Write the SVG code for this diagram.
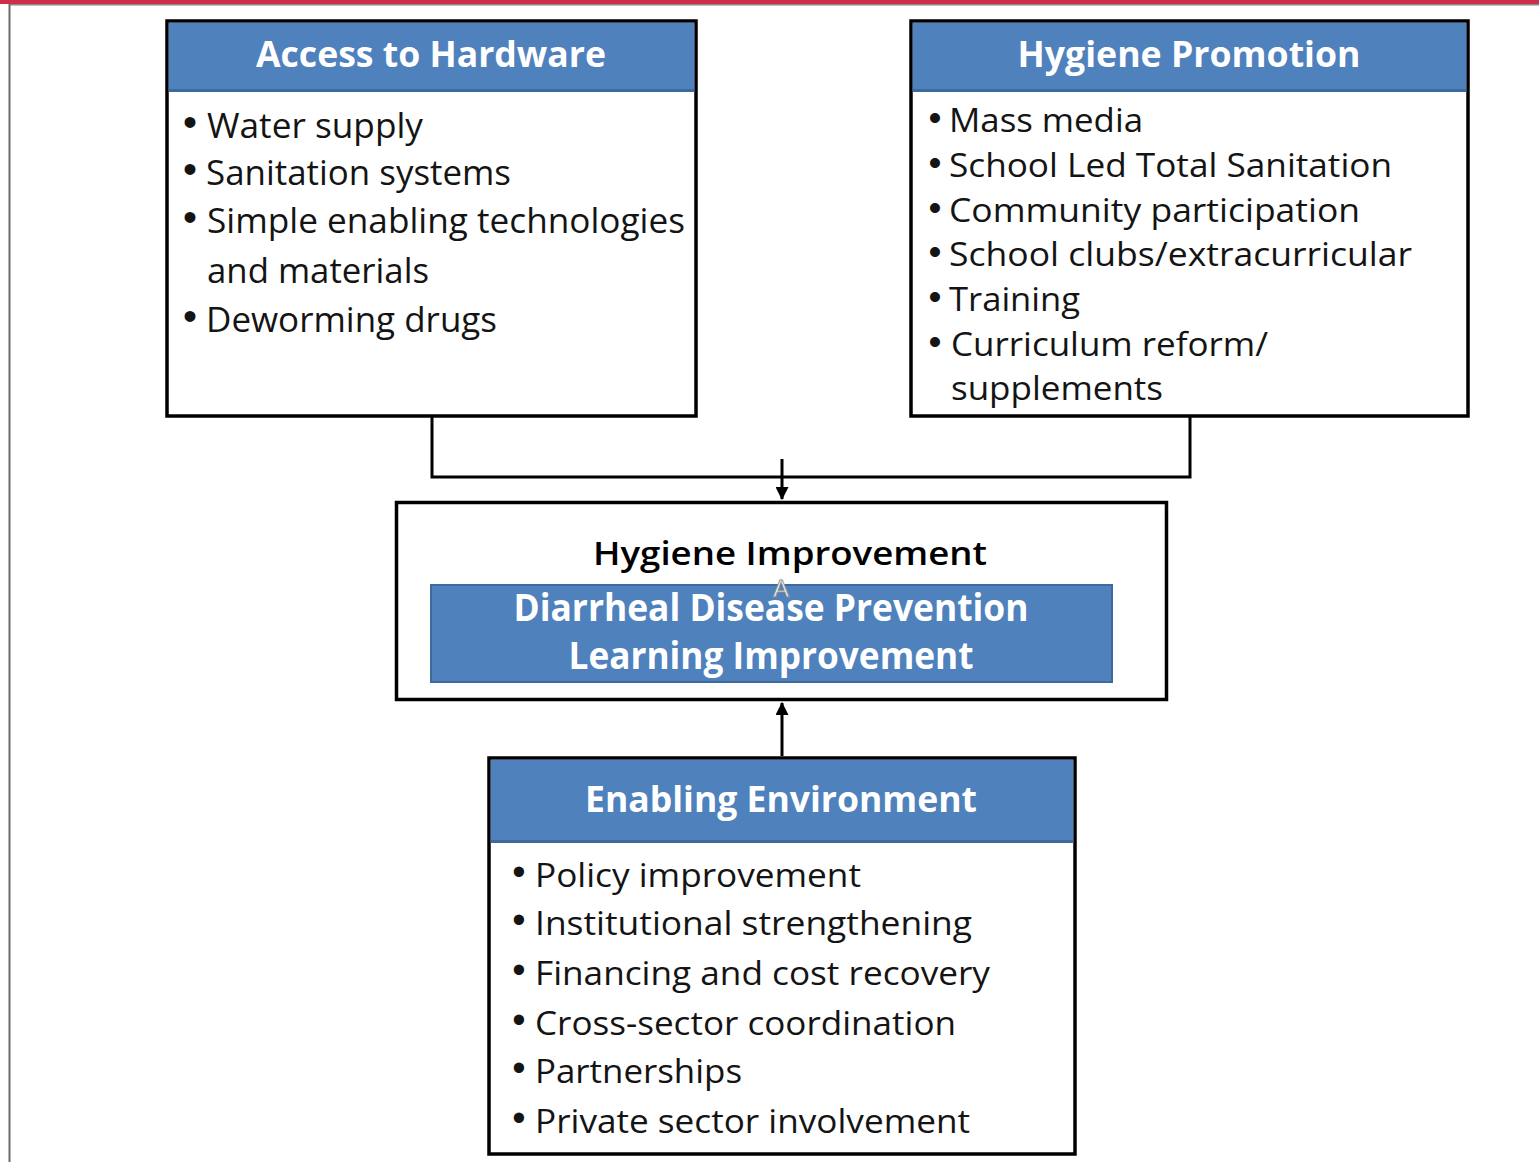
<svg xmlns="http://www.w3.org/2000/svg" width="1539" height="1162" viewBox="0 0 1539 1162">
<style>
.box{fill:#fff;stroke:#000;stroke-width:3.5}
.hdr{fill:#4f81bd}
.hdrline{stroke:#3d6a9e;stroke-width:3}
.ht{font-family:"Open Sans","Liberation Sans",sans-serif;font-weight:bold;fill:#fff;text-anchor:middle}
.it{font-family:"Open Sans","Liberation Sans",sans-serif;fill:#141414}
.bl{font-family:"Liberation Sans",sans-serif;fill:#141414;text-anchor:middle}
.conn{fill:none;stroke:#000;stroke-width:3}
</style>
<defs>
<marker id="ah" viewBox="0 0 12 12" refX="11" refY="6" markerWidth="13" markerHeight="13" markerUnits="userSpaceOnUse" orient="auto">
<path d="M0,0 L12,6 L0,12 z" fill="#000"/>
</marker>
</defs>
<rect x="0" y="0" width="1539" height="1162" fill="#fff"/>
<rect x="0" y="0" width="1539" height="4" fill="#cf2e4a"/>
<line x1="9" y1="4.8" x2="1539" y2="4.8" stroke="#8a8a8a" stroke-width="1.6"/>
<line x1="9.5" y1="4" x2="9.5" y2="1162" stroke="#6a6a6a" stroke-width="2"/>

<g id="connectors">
<path class="conn" d="M432,417 V477 H1190 V417"/>
<line class="conn" x1="782" y1="459" x2="782" y2="499" marker-end="url(#ah)"/>
<line class="conn" x1="782" y1="756" x2="782" y2="703" marker-end="url(#ah)"/>
</g>

<g id="access-to-hardware">
<rect class="box" x="167" y="21" width="529" height="395"/>
<rect class="hdr" x="168.75" y="22.75" width="525.5" height="68"/>
<line class="hdrline" x1="168.75" y1="90.5" x2="694.25" y2="90.5"/>
<text class="ht" x="431" y="67" font-size="36" textLength="350" lengthAdjust="spacingAndGlyphs">Access to Hardware</text>
<text class="bl" x="190" y="136" font-size="40">•</text>
<text class="it" x="207" y="138" font-size="35" textLength="216" lengthAdjust="spacingAndGlyphs">Water supply</text>
<text class="bl" x="190" y="183" font-size="40">•</text>
<text class="it" x="206" y="185" font-size="35" textLength="305" lengthAdjust="spacingAndGlyphs">Sanitation systems</text>
<text class="bl" x="190" y="231" font-size="40">•</text>
<text class="it" x="207" y="233" font-size="35" textLength="478" lengthAdjust="spacingAndGlyphs">Simple enabling technologies</text>
<text class="it" x="207" y="283" font-size="35" textLength="222" lengthAdjust="spacingAndGlyphs">and materials</text>
<text class="bl" x="190" y="330" font-size="40">•</text>
<text class="it" x="206" y="332" font-size="35" textLength="291" lengthAdjust="spacingAndGlyphs">Deworming drugs</text>
</g>

<g id="hygiene-promotion">
<rect class="box" x="911" y="21" width="557" height="395"/>
<rect class="hdr" x="912.75" y="22.75" width="553.5" height="68"/>
<line class="hdrline" x1="912.75" y1="90.5" x2="1466.25" y2="90.5"/>
<text class="ht" x="1189" y="67" font-size="36" textLength="343" lengthAdjust="spacingAndGlyphs">Hygiene Promotion</text>
<text class="bl" x="935" y="130" font-size="37">•</text>
<text class="it" x="949" y="132" font-size="32" textLength="194" lengthAdjust="spacingAndGlyphs">Mass media</text>
<text class="bl" x="935" y="175" font-size="37">•</text>
<text class="it" x="949" y="177" font-size="32" textLength="443" lengthAdjust="spacingAndGlyphs">School Led Total Sanitation</text>
<text class="bl" x="935" y="220" font-size="37">•</text>
<text class="it" x="949" y="222" font-size="32" textLength="411" lengthAdjust="spacingAndGlyphs">Community participation</text>
<text class="bl" x="935" y="264" font-size="37">•</text>
<text class="it" x="949" y="266" font-size="32" textLength="463" lengthAdjust="spacingAndGlyphs">School clubs/extracurricular</text>
<text class="bl" x="935" y="309" font-size="37">•</text>
<text class="it" x="949" y="311" font-size="32" textLength="131" lengthAdjust="spacingAndGlyphs">Training</text>
<text class="bl" x="935" y="354" font-size="37">•</text>
<text class="it" x="951" y="356" font-size="32" textLength="317" lengthAdjust="spacingAndGlyphs">Curriculum reform/</text>
<text class="it" x="951" y="400" font-size="32" textLength="212" lengthAdjust="spacingAndGlyphs">supplements</text>
</g>

<g id="hygiene-improvement">
<rect class="box" x="396.5" y="502.5" width="770" height="197"/>
<text x="790" y="565" font-family="Open Sans, Liberation Sans, sans-serif" font-size="33" font-weight="600" fill="#000" text-anchor="middle" textLength="394" lengthAdjust="spacingAndGlyphs">Hygiene Improvement</text>
<rect x="431" y="585" width="681" height="97" fill="#4f81bd" stroke="#3d6a9e" stroke-width="2"/>
<text class="ht" x="771" y="621" font-size="37" textLength="515" lengthAdjust="spacingAndGlyphs">Diarrheal Disease Prevention</text>
<text class="ht" x="771" y="669" font-size="37" textLength="405" lengthAdjust="spacingAndGlyphs">Learning Improvement</text>
<text x="781" y="597" font-family="Liberation Sans, sans-serif" font-size="24" fill="#fff" stroke="#8a8a8a" stroke-width="0.8" text-anchor="middle">A</text>
</g>

<g id="enabling-environment">
<rect class="box" x="489" y="758" width="586" height="396"/>
<rect class="hdr" x="490.75" y="759.75" width="582.5" height="82"/>
<line class="hdrline" x1="490.75" y1="841.5" x2="1073.25" y2="841.5"/>
<text class="ht" x="781" y="812" font-size="36" textLength="392" lengthAdjust="spacingAndGlyphs">Enabling Environment</text>
<text class="bl" x="519" y="885" font-size="38">•</text>
<text class="it" x="535" y="887" font-size="33" textLength="326" lengthAdjust="spacingAndGlyphs">Policy improvement</text>
<text class="bl" x="519" y="933" font-size="38">•</text>
<text class="it" x="535" y="935" font-size="33" textLength="437" lengthAdjust="spacingAndGlyphs">Institutional strengthening</text>
<text class="bl" x="519" y="983" font-size="38">•</text>
<text class="it" x="535" y="985" font-size="33" textLength="455" lengthAdjust="spacingAndGlyphs">Financing and cost recovery</text>
<text class="bl" x="519" y="1033" font-size="38">•</text>
<text class="it" x="535" y="1035" font-size="33" textLength="421" lengthAdjust="spacingAndGlyphs">Cross-sector coordination</text>
<text class="bl" x="519" y="1081" font-size="38">•</text>
<text class="it" x="535" y="1083" font-size="33" textLength="207" lengthAdjust="spacingAndGlyphs">Partnerships</text>
<text class="bl" x="519" y="1131" font-size="38">•</text>
<text class="it" x="535" y="1133" font-size="33" textLength="435" lengthAdjust="spacingAndGlyphs">Private sector involvement</text>
</g>
</svg>
